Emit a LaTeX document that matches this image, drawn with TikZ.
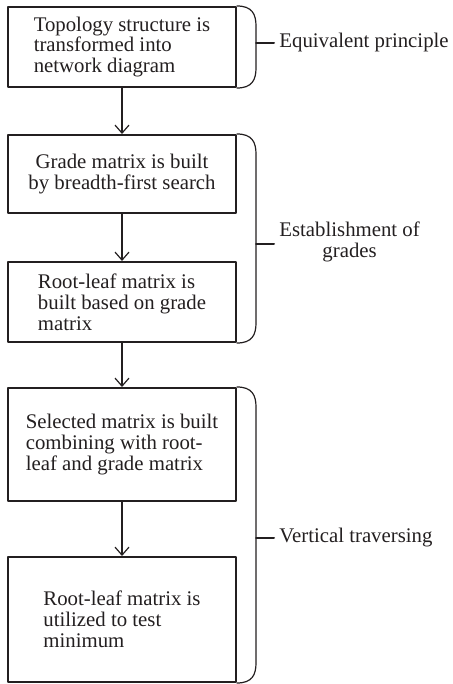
\documentclass[tikz,border=0pt]{standalone}
\usepackage{fontspec}
\setmainfont{Liberation Serif}
\usepackage{tikz}
\usetikzlibrary{arrows.meta}
\definecolor{ink}{HTML}{231F20}

\begin{document}
\begin{tikzpicture}[line cap=round,line join=round,x=0.5pt,y=-0.5pt,
  >={Straight Barb[length=4pt,width=7pt]},
  box/.style={draw=ink,line width=1pt,fill=white,align=left,minimum width=114pt,
    inner sep=0pt,font=\fontsize{10.4}{10.4}\selectfont,text=ink},
  lab/.style={anchor=west,inner xsep=2.5pt,inner ysep=0pt,
    font=\fontsize{10.4}{10.4}\selectfont,text=ink},
  flow/.style={->,draw=ink,line width=0.6pt},
  brace/.style={draw=ink,line width=0.6pt},
  tick/.style={draw=ink,line width=1pt}]
\useasboundingbox (0,0) rectangle (452,684);
% steps
\node[box,minimum height=40pt] (topo) at (122,47) {Topology structure is\\transformed into\\network diagram};
\node[box,minimum height=39pt,align=center] (grade) at (122,174) {Grade matrix is built\\by breadth-first search};
\node[box,minimum height=40pt] (rootleaf) at (122,302) {Root-leaf matrix is\\built based on grade\\matrix};
\node[box,minimum height=56.5pt] (select) at (122,444.5) {Selected matrix is built\\combining with root-\\leaf and grade matrix};
\node[box,minimum height=62.5pt] (test) at (122,619.5) {Root-leaf matrix is\\utilized to test\\minimum};
% flow
\draw[flow] (topo) -- (grade);
\draw[flow] (grade) -- (rootleaf);
\draw[flow] (rootleaf) -- (select);
\draw[flow] (select) -- (test);
% braces
\draw[brace] (topo.north east) .. controls +(15,0) and +(0,-12) .. ([shift={(19,20)}]topo.north east)
  -- coordinate[pos=0.4] (m1) ([shift={(19,-20)}]topo.south east)
  .. controls +(0,12) and +(15,0) .. (topo.south east);
\draw[brace] (grade.north east) .. controls +(15,0) and +(0,-12) .. ([shift={(19,20)}]grade.north east)
  -- coordinate[pos=0.53] (m2) ([shift={(19,-20)}]rootleaf.south east)
  .. controls +(0,12) and +(15,0) .. (rootleaf.south east);
\draw[brace] (select.north east) .. controls +(15,0) and +(0,-12) .. ([shift={(19,20)}]select.north east)
  -- coordinate[pos=0.51] (m3) ([shift={(19,-20)}]test.south east)
  .. controls +(0,12) and +(15,0) .. (test.south east);
% labels
\node[lab] (equiv) at ([shift={(18,0)}]m1) {Equivalent principle};
\node[lab,align=center] (grades) at ([shift={(18,-2)}]m2) {Establishment of\\grades};
\node[lab] (vert) at ([shift={(18,0)}]m3) {Vertical traversing};
\draw[tick] (m1) -- (equiv);
\draw[tick] (m2) -- (m2 -| grades.west);
\draw[tick] (m3) -- (vert);
\end{tikzpicture}
\end{document}
